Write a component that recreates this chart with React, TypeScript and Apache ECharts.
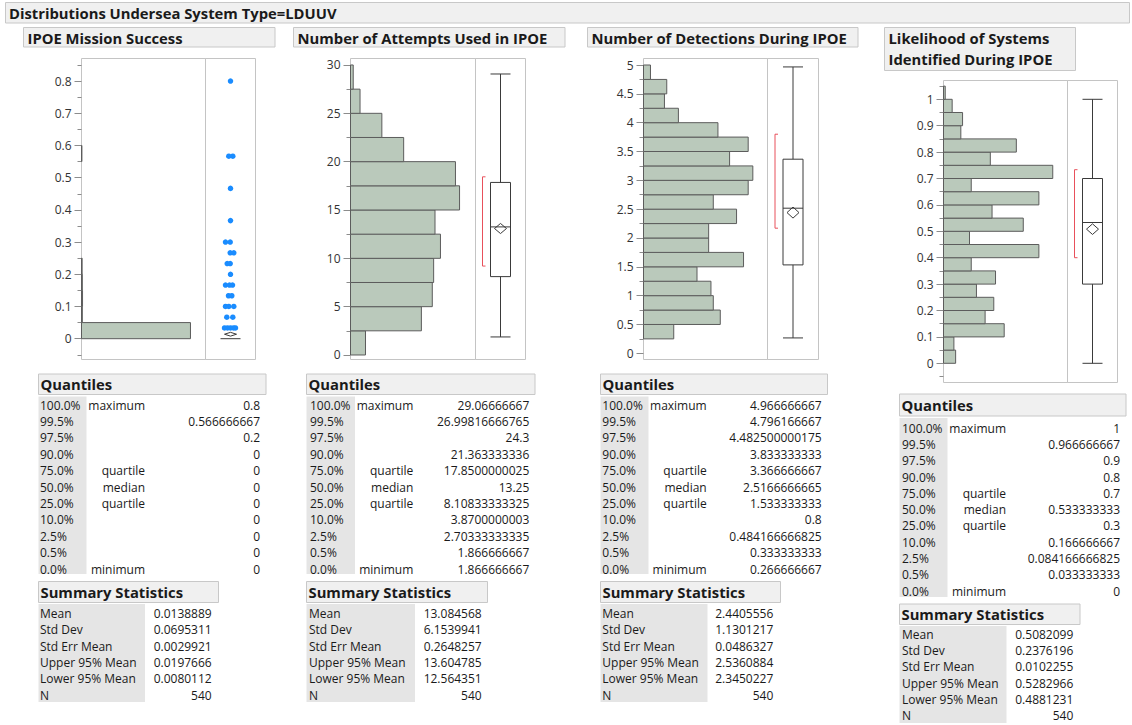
import { useEffect, useRef } from 'react';
import * as echarts from 'echarts';

// ---------- text ----------
const reportTitle = 'Distributions Undersea System Type=LDUUV';
const panelTitles = [
  ['IPOE Mission Success'],
  ['Number of Attempts Used in IPOE'],
  ['Number of Detections During IPOE'],
  ['Likelihood of Systems', 'Identified During IPOE'],
];

// ---------- histograms (bin lower edge, counts) ----------
const p1BinWidth = 0.05;
const p1BinLo = [0, 0.05, 0.1, 0.15, 0.2, 0.55];
const p1Counts = [522, 4, 5, 4, 3, 2];

const p2BinWidth = 2.5;
const p2BinLo = [0, 2.5, 5, 7.5, 10, 12.5, 15, 17.5, 20, 22.5, 25, 27.5];
const p2Counts = [11, 52, 60, 61, 66, 62, 80, 77, 39, 23, 7, 2];

const p3BinWidth = 0.25;
const p3BinLo = [0.25, 0.5, 0.75, 1, 1.25, 1.5, 1.75, 2, 2.25, 2.5, 2.75, 3, 3.25, 3.5, 3.75, 4, 4.25, 4.5, 4.75];
const p3Counts = [13, 33, 30, 29, 23, 43, 28, 28, 40, 30, 45, 47, 37, 45, 32, 15, 9, 10, 3];

const p4BinWidth = 0.05;
const p4BinLo = [0, 0.05, 0.1, 0.15, 0.2, 0.25, 0.3, 0.35, 0.4, 0.45, 0.5, 0.55, 0.6, 0.65, 0.7, 0.75, 0.8, 0.85, 0.9, 0.95, 1];
const p4Counts = [7, 6, 35, 24, 29, 19, 30, 16, 55, 15, 46, 28, 55, 16, 63, 27, 42, 10, 11, 5, 1];

// ---------- box plots: [lowerWhisker, q1, median, q3, upperWhisker, mean, lower95, upper95, shortestHalfLo, shortestHalfHi]
const p1Box = [0, 0, 0, 0, 0, 0.0138889, 0.0080112, 0.0197666, 0, 0];
const p2Box = [1.866666667, 8.10833333325, 13.25, 17.8500000025, 29.06666667, 13.084568, 12.564351, 13.604785, 9.2, 18.43];
const p3Box = [0.266666667, 1.533333333, 2.5166666665, 3.366666667, 4.966666667, 2.4405556, 2.3450227, 2.5360884, 2.17, 3.8];
const p4Box = [0, 0.3, 0.533333333, 0.7, 1, 0.5082099, 0.4881231, 0.5282966, 0.4, 0.733333];

// outlier points of panel 1 (value, horizontal jitter)
const p1OutlierValues = [0.8, 0.566667, 0.566667, 0.466667, 0.366667, 0.3, 0.3, 0.266667, 0.266667, 0.233333, 0.233333, 0.2,
  0.166667, 0.166667, 0.166667, 0.133333, 0.133333, 0.1, 0.1, 0.1, 0.066667, 0.066667,
  0.033333, 0.033333, 0.033333, 0.033333, 0.033333];
const p1OutlierJitter = [0, -1.7, 2.3, 0, 0, -5, -0.3, -0.3, 3.3, -3.3, -0.3, 0,
  -5, -1, 2, -2, 1.3, -5, -1.7, 3.3, -3.7, 2.3,
  -6, -3, 0, 3, 5];

// ---------- axis ticks ----------
const p1MajorTicks = [0, 0.1, 0.2, 0.3, 0.4, 0.5, 0.6, 0.7, 0.8];
const p1MinorTicks = [-0.05, 0.05, 0.15, 0.25, 0.35, 0.45, 0.55, 0.65, 0.75, 0.85];
const p2MajorTicks = [0, 5, 10, 15, 20, 25, 30];
const p2MinorTicks = [2.5, 7.5, 12.5, 17.5, 22.5, 27.5];
const p3MajorTicks = [0, 0.5, 1, 1.5, 2, 2.5, 3, 3.5, 4, 4.5, 5];
const p3MinorTicks = [0.25, 0.75, 1.25, 1.75, 2.25, 2.75, 3.25, 3.75, 4.25, 4.75];
const p4MajorTicks = [0, 0.1, 0.2, 0.3, 0.4, 0.5, 0.6, 0.7, 0.8, 0.9, 1];
const p4MinorTicks = [-0.05, 0.05, 0.15, 0.25, 0.35, 0.45, 0.55, 0.65, 0.75, 0.85, 0.95, 1.05];

// ---------- tables ----------
const quantileLevels = ['100.0%', '99.5%', '97.5%', '90.0%', '75.0%', '50.0%', '25.0%', '10.0%', '2.5%', '0.5%', '0.0%'];
const quantileNames = ['maximum', '', '', '', 'quartile', 'median', 'quartile', '', '', '', 'minimum'];
const p1Quantiles = ['0.8', '0.566666667', '0.2', '0', '0', '0', '0', '0', '0', '0', '0'];
const p2Quantiles = ['29.06666667', '26.99816666765', '24.3', '21.363333336', '17.8500000025', '13.25', '8.10833333325', '3.8700000003', '2.70333333335', '1.866666667', '1.866666667'];
const p3Quantiles = ['4.966666667', '4.796166667', '4.482500000175', '3.833333333', '3.366666667', '2.5166666665', '1.533333333', '0.8', '0.484166666825', '0.333333333', '0.266666667'];
const p4Quantiles = ['1', '0.966666667', '0.9', '0.8', '0.7', '0.533333333', '0.3', '0.166666667', '0.084166666825', '0.033333333', '0'];
const summaryNames = ['Mean', 'Std Dev', 'Std Err Mean', 'Upper 95% Mean', 'Lower 95% Mean', 'N'];
const p1Summary = ['0.0138889', '0.0695311', '0.0029921', '0.0197666', '0.0080112', '540'];
const p2Summary = ['13.084568', '6.1539941', '0.2648257', '13.604785', '12.564351', '540'];
const p3Summary = ['2.4405556', '1.1301217', '0.0486327', '2.5360884', '2.3450227', '540'];
const p4Summary = ['0.5082099', '0.2376196', '0.0102255', '0.5282966', '0.4881231', '540'];

// ---------- styles / layout ----------
const FONT = '"Open Sans", "Noto Sans", "DejaVu Sans", sans-serif';
const TEXT = '#1a1a1a';
const HEAD_FILL = '#f0f0f0';
const HEAD_STROKE = '#c8c8c8';
const GRAY_COL = '#e5e5e5';
const FRAME = '#c4c4c4';
const BAR_FILL = '#bac9bb';
const BAR_STROKE = '#5c5c5c';
const BOX_STROKE = '#3a3a3a';
const RED = '#e8505b';
const DOT = '#1a8cff';
const BOLD_SIZE = 14.8;

const panels = [
  {
    binW: p1BinWidth, binLo: p1BinLo, counts: p1Counts, box: p1Box, major: p1MajorTicks, minor: p1MinorTicks,
    quant: p1Quantiles, summ: p1Summary,
    hl: 81.5, dv: 205.5, br: 255.5, top: 58.5, bottom: 359.5, yMin: -0.0646, yMax: 0.870, xMax: 594,
    title: { x: 23.5, y: 27.5, w: 251.5, h: 19.5 },
    q: { x: 38.5, y: 374, w: 227.5, h: 20.5, levelX: 40, nameR: 145, valR: 260, y0: 405, step: 16.4, grayW: 48, grayTop: 396.5, grayBot: 574 },
    s: { x: 38.5, y: 581.5, w: 180, h: 21, nameX: 40, valR: 211.7, y0: 613.3, step: 16.35, grayW: 106.5, grayTop: 604, grayBot: 702 },
  },
  {
    binW: p2BinWidth, binLo: p2BinLo, counts: p2Counts, box: p2Box, major: p2MajorTicks, minor: p2MinorTicks,
    quant: p2Quantiles, summ: p2Summary,
    hl: 350.5, dv: 475.5, br: 525.5, top: 58.5, bottom: 359.5, yMin: -0.466, yMax: 30.67, xMax: 91.7,
    title: { x: 293.5, y: 27.5, w: 271.5, h: 19.5 },
    q: { x: 306.5, y: 374, w: 228.5, h: 20.5, levelX: 310, nameR: 413.3, valR: 529.3, y0: 405, step: 16.4, grayW: 48.5, grayTop: 396.5, grayBot: 574 },
    s: { x: 306.5, y: 581.5, w: 181, h: 21, nameX: 309, valR: 481.7, y0: 613.3, step: 16.35, grayW: 108.5, grayTop: 604, grayBot: 702 },
  },
  {
    binW: p3BinWidth, binLo: p3BinLo, counts: p3Counts, box: p3Box, major: p3MajorTicks, minor: p3MinorTicks,
    quant: p3Quantiles, summ: p3Summary,
    hl: 643.5, dv: 767.5, br: 818.5, top: 58.5, bottom: 359.5, yMin: -0.1075, yMax: 5.113, xMax: 53.3,
    title: { x: 587.5, y: 27.5, w: 270.5, h: 19.5 },
    q: { x: 600.5, y: 374, w: 227, h: 20.5, levelX: 602.3, nameR: 706.7, valR: 821.7, y0: 405, step: 16.4, grayW: 48, grayTop: 396.5, grayBot: 574 },
    s: { x: 600.5, y: 581.5, w: 180, h: 21, nameX: 602.3, valR: 773.3, y0: 613.3, step: 16.35, grayW: 107, grayTop: 604, grayBot: 702 },
  },
  {
    binW: p4BinWidth, binLo: p4BinLo, counts: p4Counts, box: p4Box, major: p4MajorTicks, minor: p4MinorTicks,
    quant: p4Quantiles, summ: p4Summary,
    hl: 943.5, dv: 1067.5, br: 1117.5, top: 80.5, bottom: 382.5, yMin: -0.0727, yMax: 1.0712, xMax: 71.5,
    title: { x: 884.5, y: 27.5, w: 191, h: 43 },
    q: { x: 899.5, y: 394, w: 226.5, h: 22, levelX: 902, nameR: 1006, valR: 1120, y0: 428.3, step: 16.27, grayW: 48, grayTop: 418, grayBot: 597 },
    s: { x: 899.5, y: 604, w: 180.5, h: 20.5, nameX: 902, valR: 1073.3, y0: 634.3, step: 16.33, grayW: 107, grayTop: 626, grayBot: 723 },
  },
];

function txt(text: string, x: number, y: number, opts: any = {}) {
  return {
    type: 'text',
    silent: true,
    style: {
      text, x, y,
      fill: TEXT,
      fontSize: opts.size ?? 12,
      fontFamily: FONT,
      fontWeight: opts.bold ? 'bold' : 'normal',
      align: opts.align ?? 'left',
      verticalAlign: 'middle',
    },
  };
}

function rect(x: number, y: number, w: number, h: number, fill: string, stroke?: string) {
  return {
    type: 'rect',
    silent: true,
    shape: { x, y, width: w, height: h },
    style: { fill, stroke: stroke ?? 'none', lineWidth: 1 },
  };
}

function buildOption() {
  const grid: any[] = [];
  const xAxis: any[] = [];
  const yAxis: any[] = [];
  const series: any[] = [];
  const elements: any[] = [];

  // report header
  elements.push(rect(5.5, 2.5, 1124, 20.5, HEAD_FILL, HEAD_STROKE));
  elements.push(txt(reportTitle, 9, 13, { bold: true, size: BOLD_SIZE }));

  panels.forEach((p, i) => {
    // grids
    const hg = grid.length;
    grid.push({ left: p.hl, top: p.top, width: p.dv - p.hl, height: p.bottom - p.top, show: true, borderColor: FRAME, borderWidth: 1, backgroundColor: '#fff' });
    const bg = grid.length;
    grid.push({ left: p.dv, top: p.top, width: p.br - p.dv, height: p.bottom - p.top, show: true, borderColor: FRAME, borderWidth: 1, backgroundColor: 'transparent' });

    const hx = xAxis.length;
    xAxis.push({ gridIndex: hg, type: 'value', min: 0, max: p.xMax, show: false });
    const bx = xAxis.length;
    xAxis.push({ gridIndex: bg, type: 'value', min: -25, max: 25, show: false });

    const hy = yAxis.length;
    yAxis.push({
      gridIndex: hg, type: 'value', min: p.yMin, max: p.yMax, position: 'left',
      axisLine: { show: false }, splitLine: { show: false },
      axisTick: { show: true, length: 7, customValues: p.major, lineStyle: { color: '#8c8c8c' } },
      axisLabel: { show: true, customValues: p.major, margin: 10, fontSize: 12, color: '#333', fontFamily: FONT },
    });
    yAxis.push({
      gridIndex: hg, type: 'value', min: p.yMin, max: p.yMax, position: 'left',
      axisLine: { show: false }, splitLine: { show: false },
      axisTick: { show: true, length: 4, customValues: p.minor, lineStyle: { color: '#8c8c8c' } },
      axisLabel: { show: false },
    });
    const by = yAxis.length;
    yAxis.push({ gridIndex: bg, type: 'value', min: p.yMin, max: p.yMax, show: false });

    // histogram
    series.push({
      type: 'custom',
      xAxisIndex: hx,
      yAxisIndex: hy,
      clip: false,
      silent: true,
      dimensions: ['lo', 'hi', 'count'],
      encode: { x: 'count', y: 'lo' },
      data: p.binLo.map((lo, k) => [lo, lo + p.binW, p.counts[k]]),
      renderItem: (_params: any, api: any) => {
        const lo = api.value(0);
        const hi = api.value(1);
        const c = api.value(2);
        const a = api.coord([0, hi]);
        const b = api.coord([c, lo]);
        return {
          type: 'rect',
          shape: { x: a[0], y: a[1], width: b[0] - a[0], height: b[1] - a[1] },
          style: { fill: BAR_FILL, stroke: BAR_STROKE, lineWidth: 1 },
        };
      },
    });

    // box plot
    series.push({
      type: 'custom',
      xAxisIndex: bx,
      yAxisIndex: by,
      clip: false,
      silent: true,
      dimensions: ['x', 'wlo', 'q1', 'med', 'q3', 'whi', 'mean', 'lo95', 'hi95', 'shlo', 'shhi'],
      encode: { x: 'x', y: 'med' },
      data: [[0, ...p.box]],
      renderItem: (_params: any, api: any) => {
        const v = (k: number) => api.value(k) as number;
        const Y = (val: number) => api.coord([0, val])[1];
        const cx = api.coord([0, 0])[0];
        const hw = 10;
        const [wlo, q1, med, q3, whi, mean, lo95, hi95, shlo, shhi] = [1, 2, 3, 4, 5, 6, 7, 8, 9, 10].map(v);
        const ls = { stroke: BOX_STROKE, lineWidth: 1, fill: 'none' };
        const ch: any[] = [];
        if (whi > wlo) {
          ch.push({ type: 'line', shape: { x1: cx, y1: Y(whi), x2: cx, y2: Y(q3) }, style: ls });
          ch.push({ type: 'line', shape: { x1: cx, y1: Y(q1), x2: cx, y2: Y(wlo) }, style: ls });
          ch.push({ type: 'line', shape: { x1: cx - hw, y1: Y(whi), x2: cx + hw, y2: Y(whi) }, style: ls });
          ch.push({ type: 'line', shape: { x1: cx - hw, y1: Y(wlo), x2: cx + hw, y2: Y(wlo) }, style: ls });
        }
        if (q3 > q1) {
          ch.push({ type: 'rect', shape: { x: cx - hw, y: Y(q3), width: 2 * hw, height: Y(q1) - Y(q3) }, style: ls });
        }
        ch.push({ type: 'line', shape: { x1: cx - hw, y1: Y(med), x2: cx + hw, y2: Y(med) }, style: ls });
        ch.push({
          type: 'polygon',
          shape: { points: [[cx - 6, Y(mean)], [cx, Y(hi95)], [cx + 6, Y(mean)], [cx, Y(lo95)]] },
          style: ls,
        });
        if (shhi > shlo) {
          const bxp = cx - 18;
          ch.push({
            type: 'polyline',
            shape: { points: [[bxp + 3, Y(shhi)], [bxp, Y(shhi)], [bxp, Y(shlo)], [bxp + 3, Y(shlo)]] },
            style: { stroke: RED, lineWidth: 1, fill: 'none' },
          });
        }
        return { type: 'group', children: ch };
      },
    });

    if (i === 0) {
      series.push({
        type: 'scatter',
        xAxisIndex: bx,
        yAxisIndex: by,
        silent: true,
        symbolSize: 5.5,
        itemStyle: { color: DOT, opacity: 1 },
        data: p1OutlierValues.map((val, k) => [p1OutlierJitter[k], val]),
        z: 5,
      });
    }

    // title
    const t = p.title;
    elements.push(rect(t.x, t.y, t.w, t.h, HEAD_FILL, HEAD_STROKE));
    panelTitles[i].forEach((line, k) => {
      elements.push(txt(line, t.x + 4, t.y + 10 + k * 21.5, { bold: true, size: BOLD_SIZE }));
    });

    // quantiles
    const q = p.q;
    elements.push(rect(q.x, q.y, q.w, q.h, HEAD_FILL, HEAD_STROKE));
    elements.push(txt('Quantiles', q.x + 2, q.y + q.h / 2, { bold: true, size: BOLD_SIZE }));
    elements.push(rect(q.x, q.grayTop, q.grayW, q.grayBot - q.grayTop, GRAY_COL));
    quantileLevels.forEach((lvl, k) => {
      const y = q.y0 + k * q.step;
      elements.push(txt(lvl, q.levelX, y));
      if (quantileNames[k]) elements.push(txt(quantileNames[k], q.nameR, y, { align: 'right' }));
      elements.push(txt(p.quant[k], q.valR, y, { align: 'right' }));
    });

    // summary statistics
    const s = p.s;
    elements.push(rect(s.x, s.y, s.w, s.h, HEAD_FILL, HEAD_STROKE));
    elements.push(txt('Summary Statistics', s.x + 2, s.y + s.h / 2, { bold: true, size: BOLD_SIZE }));
    elements.push(rect(s.x, s.grayTop, s.grayW, s.grayBot - s.grayTop, GRAY_COL));
    summaryNames.forEach((nm, k) => {
      const y = s.y0 + k * s.step;
      elements.push(txt(nm, s.nameX, y));
      elements.push(txt(p.summ[k], s.valR, y, { align: 'right' }));
    });
  });

  return {
    animation: false,
    backgroundColor: '#fff',
    grid,
    xAxis,
    yAxis,
    series,
    graphic: { elements },
  };
}

export default function App() {
  const ref = useRef<HTMLDivElement>(null);
  useEffect(() => {
    document.body.style.margin = '0';
    const chart = echarts.init(ref.current!, null, { renderer: 'svg' });
    chart.setOption(buildOption() as any);
    return () => chart.dispose();
  }, []);
  return <div ref={ref} style={{ width: 1132, height: 725 }} />;
}
